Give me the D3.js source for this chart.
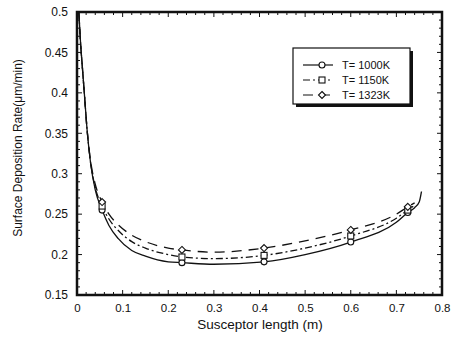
<!DOCTYPE html>
<html><head><meta charset="utf-8">
<script src="https://cdn.jsdelivr.net/npm/d3@7"></script>
<style>body{margin:0;background:#fff}svg{display:block}text{font-family:"Liberation Sans",Arial,sans-serif;fill:#111}</style>
</head><body><svg id="c" width="452" height="345"></svg>
<script>
// Data
const seriesNames = ["T= 1000K", "T= 1150K", "T= 1323K"];
const xs1000 = [0.004,0.008,0.012,0.016,0.022,0.03,0.04,0.055,0.07,0.09,0.12,0.15,0.2,0.23,0.3,0.41,0.5,0.6,0.7,0.725,0.74,0.75,0.755];
const ys1000 = [0.5,0.46,0.43,0.40,0.355,0.312,0.28,0.255,0.236,0.22,0.205,0.198,0.191,0.19,0.188,0.191,0.2,0.2155,0.24,0.252,0.258,0.265,0.278];
const xs1150 = [0.004,0.008,0.012,0.016,0.022,0.03,0.04,0.055,0.07,0.09,0.12,0.15,0.2,0.23,0.3,0.41,0.5,0.6,0.7,0.725,0.74];
const ys1150 = [0.5,0.46,0.43,0.40,0.355,0.313,0.283,0.26,0.244,0.23,0.216,0.208,0.2,0.197,0.195,0.199,0.208,0.223,0.245,0.255,0.261];
const xs1323 = [0.004,0.008,0.012,0.016,0.022,0.03,0.04,0.055,0.07,0.09,0.12,0.15,0.2,0.23,0.3,0.41,0.5,0.6,0.7,0.725,0.74];
const ys1323 = [0.5,0.46,0.43,0.40,0.355,0.315,0.287,0.265,0.25,0.237,0.224,0.216,0.208,0.2057,0.203,0.208,0.217,0.2305,0.25,0.259,0.264];
const markerX = [0.055,0.23,0.41,0.6,0.725];
const mk1000 = [0.255,0.19,0.191,0.2155,0.252];
const mk1150 = [0.26,0.197,0.199,0.223,0.255];
const mk1323 = [0.265,0.2057,0.208,0.2305,0.259];
const xTickVals = [0,0.1,0.2,0.3,0.4,0.5,0.6,0.7,0.8];
const xTickLabels = ["0","0.1","0.2","0.3","0.4","0.5","0.6","0.7","0.8"];
const yTickVals = [0.15,0.2,0.25,0.3,0.35,0.4,0.45,0.5];
const yTickLabels = ["0.15","0.2","0.25","0.3","0.35","0.4","0.45","0.5"];

const svg = d3.select("#c");
const L=77, R=442, T=12, B=295;
const x = d3.scaleLinear().domain([0,0.8]).range([L,R]);
const y = d3.scaleLinear().domain([0.15,0.5]).range([B,T]);

// minor ticks inside
const g = svg.append("g");
d3.range(0,0.8001,0.02).forEach(v=>{
  const len = Math.abs(v*10-Math.round(v*10))<1e-6 ? 5 : 3;
  g.append("line").attr("x1",x(v)).attr("x2",x(v)).attr("y1",B).attr("y2",B-len).attr("stroke","#111");
  g.append("line").attr("x1",x(v)).attr("x2",x(v)).attr("y1",T).attr("y2",T+len).attr("stroke","#111");
});
d3.range(0.15,0.5001,0.01).forEach(v=>{
  const len = Math.abs(v*20-Math.round(v*20))<1e-6 ? 5 : 3;
  g.append("line").attr("y1",y(v)).attr("y2",y(v)).attr("x1",L).attr("x2",L+len).attr("stroke","#111");
  g.append("line").attr("y1",y(v)).attr("y2",y(v)).attr("x1",R).attr("x2",R-len).attr("stroke","#111");
});

// axes labels
const xAxis = d3.axisBottom(x).tickValues(xTickVals).tickFormat((d,i)=>xTickLabels[i]).tickSize(0).tickPadding(9);
svg.append("g").attr("transform",`translate(0,${B})`).call(xAxis)
  .call(s=>s.select(".domain").remove())
  .selectAll("text").attr("font-size",11.5).style("font-family","Liberation Sans, Arial").attr("fill","#111");
const yAxis = d3.axisLeft(y).tickValues(yTickVals).tickFormat((d,i)=>yTickLabels[i]).tickSize(0).tickPadding(9);
svg.append("g").attr("transform",`translate(${L},0)`).call(yAxis)
  .call(s=>s.select(".domain").remove())
  .selectAll("text").attr("font-size",12).style("font-family","Liberation Sans, Arial").attr("fill","#111");

svg.append("text").attr("x",260).attr("y",329).attr("text-anchor","middle").attr("font-size",13.5).text("Susceptor length (m)");
svg.append("text").attr("transform","translate(22,148) rotate(-90)").attr("text-anchor","middle").attr("font-size",12).text("Surface Deposition Rate(\u03bcm/min)");

// curves
const line = d3.line().x(d=>x(d[0])).y(d=>y(d[1])).curve(d3.curveMonotoneX);
const styles = [{dash:null},{dash:"7,3,2,3"},{dash:"10,7"}];
const data = [d3.zip(xs1000,ys1000), d3.zip(xs1150,ys1150), d3.zip(xs1323,ys1323)];
data.forEach((d,i)=>{
  svg.append("path").datum(d).attr("d",line).attr("fill","none").attr("stroke","#111").attr("stroke-width",1.3)
    .attr("stroke-dasharray",styles[i].dash);
});

// markers
function marker(sel, type, cx, cy){
  if(type===0) sel.append("circle").attr("cx",cx).attr("cy",cy).attr("r",3).attr("fill","#fff").attr("stroke","#111").attr("stroke-width",1.1);
  else if(type===1) sel.append("rect").attr("x",cx-3).attr("y",cy-3).attr("width",6).attr("height",6).attr("fill","#fff").attr("stroke","#111").attr("stroke-width",1.1);
  else sel.append("path").attr("d",`M${cx},${cy-3.5}L${cx+3.5},${cy}L${cx},${cy+3.5}L${cx-3.5},${cy}Z`).attr("fill","#fff").attr("stroke","#111").attr("stroke-width",1.1);
}
const mks=[mk1000,mk1150,mk1323];
mks.forEach((arr,i)=>arr.forEach((v,j)=>marker(svg,i,x(markerX[j]),y(v))));

// frame
svg.append("rect").attr("x",L).attr("y",T).attr("width",R-L).attr("height",B-T).attr("fill","none").attr("stroke","#111").attr("stroke-width",2.5);

// legend
const lg = svg.append("g");
lg.append("rect").attr("x",296).attr("y",51).attr("width",117).attr("height",56).attr("fill","#111");
lg.append("rect").attr("x",293).attr("y",48).attr("width",117).attr("height",56).attr("fill","#fff").attr("stroke","#111").attr("stroke-width",1.2);
[65,80,95].forEach((ly,i)=>{
  lg.append("line").attr("x1",303).attr("x2",333).attr("y1",ly).attr("y2",ly).attr("stroke","#111").attr("stroke-width",1.2).attr("stroke-dasharray",styles[i].dash);
  marker(lg,i,322,ly);
  lg.append("text").attr("x",342).attr("y",ly+4).attr("font-size",11).text(seriesNames[i]);
});
</script></body></html>
